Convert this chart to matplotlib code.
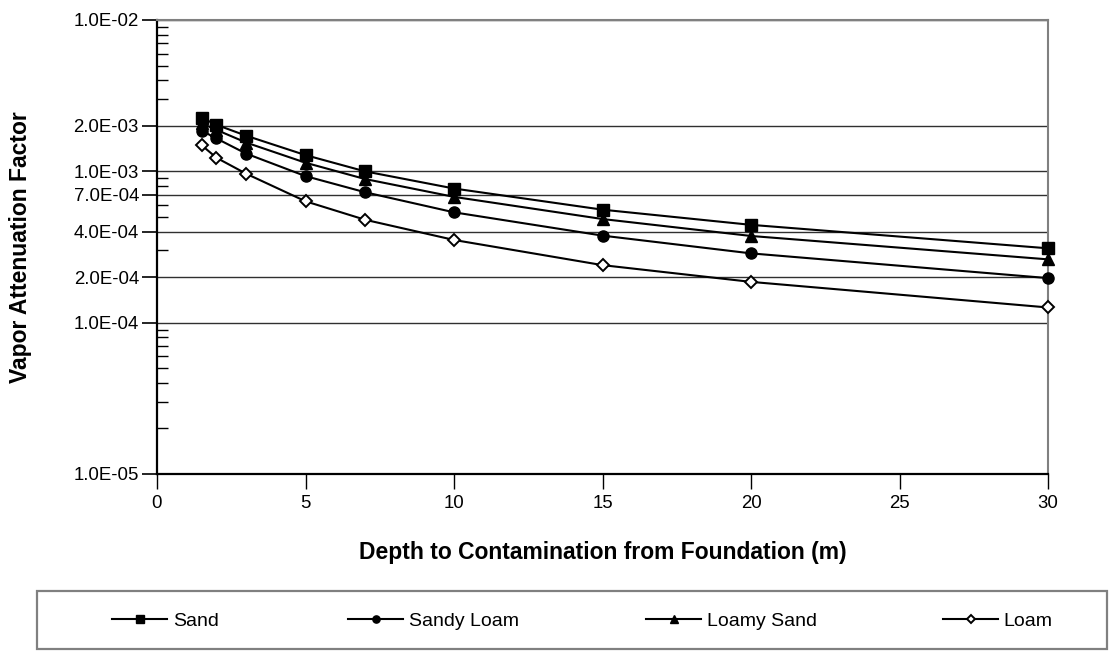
import matplotlib
matplotlib.use("Agg")
import matplotlib.pyplot as plt
from matplotlib.patches import Rectangle
from matplotlib.ticker import FixedLocator, FixedFormatter, LogLocator, NullFormatter

plt.rcParams['font.family'] = ['Liberation Sans', 'DejaVu Sans']

depth = [1.5, 2, 3, 5, 7, 10, 15, 20, 30]
sand = [2.26e-3, 2.03e-3, 1.72e-3, 1.28e-3, 1.0e-3, 7.7e-4, 5.58e-4, 4.43e-4, 3.1e-4]
sandy_loam = [1.86e-3, 1.65e-3, 1.31e-3, 9.3e-4, 7.28e-4, 5.36e-4, 3.76e-4, 2.87e-4, 1.97e-4]
loamy_sand = [2.08e-3, 1.88e-3, 1.55e-3, 1.14e-3, 8.9e-4, 6.78e-4, 4.84e-4, 3.74e-4, 2.62e-4]
loam = [1.49e-3, 1.23e-3, 9.65e-4, 6.34e-4, 4.79e-4, 3.52e-4, 2.40e-4, 1.86e-4, 1.26e-4]

y_ticks = [1e-5, 1e-4, 2e-4, 4e-4, 7e-4, 1e-3, 2e-3, 1e-2]
y_tick_labels = ["1.0E-05", "1.0E-04", "2.0E-04", "4.0E-04", "7.0E-04", "1.0E-03", "2.0E-03", "1.0E-02"]
x_ticks = [0, 5, 10, 15, 20, 25, 30]

W, H = 1110, 666
fig = plt.figure(figsize=(W / 100, H / 100), dpi=100)
L, R, T, B = 157, 1048, 20, 474
ax = fig.add_axes([L / W, 1 - B / H, (R - L) / W, (B - T) / H])

ax.set_yscale('log')
ax.set_xlim(0, 30)
ax.set_ylim(1e-5, 1e-2)

series = [
    ("Sand", sand, dict(marker='s', ms=8, mfc='black', mec='black')),
    ("Sandy Loam", sandy_loam, dict(marker='o', ms=8, mfc='black', mec='black')),
    ("Loamy Sand", loamy_sand, dict(marker='^', ms=8.5, mfc='black', mec='black')),
    ("Loam", loam, dict(marker='D', ms=6.5, mfc='white', mec='black', mew=1.4)),
]
handles = []
for name, vals, st in series:
    h, = ax.plot(depth, vals, color='black', lw=1.5, label=name, zorder=3, clip_on=False, **st)
    handles.append(h)

ax.yaxis.set_major_locator(FixedLocator(y_ticks))
ax.yaxis.set_major_formatter(FixedFormatter(y_tick_labels))
ax.yaxis.set_minor_locator(LogLocator(base=10, subs=range(2, 10), numticks=20))
ax.yaxis.set_minor_formatter(NullFormatter())
ax.set_xticks(x_ticks)

ax.tick_params(axis='y', which='major', direction='out', length=11, width=1.2, pad=2, labelsize=13.4)
ax.tick_params(axis='y', which='minor', direction='in', length=8, width=1.0)
ax.tick_params(axis='x', which='major', direction='out', length=11, width=1.0, pad=4, labelsize=13.4)
ax.tick_params(axis='x', which='minor', bottom=False)

ax.grid(True, axis='y', which='major', color='#303030', lw=1.0)
ax.set_axisbelow(True)

for s in ['left', 'bottom']:
    ax.spines[s].set_color('black')
    ax.spines[s].set_linewidth(1.6)
for s in ['right', 'top']:
    ax.spines[s].set_color('#808080')
    ax.spines[s].set_linewidth(1.5)

fig.text(21 / W, 1 - (T + B) / 2 / H, "Vapor Attenuation Factor", rotation=90,
         ha='center', va='center', fontsize=16.5, fontweight='bold')
fig.text((L + R) / 2 / W, 1 - 553 / H, "Depth to Contamination from Foundation (m)",
         ha='center', va='center', fontsize=16.5, fontweight='bold')

# legend frame
lx0, lx1, ly0, ly1 = 37, 1107, 591, 649
fig.patches.append(Rectangle((lx0 / W, 1 - ly1 / H), (lx1 - lx0) / W, (ly1 - ly0) / H,
                             transform=fig.transFigure, facecolor='none',
                             edgecolor='#808080', lw=1.6))
entry_x = [112, 348, 646, 943]
for h, ex in zip(handles, entry_x):
    fig.legend(handles=[h], loc='center left',
               bbox_to_anchor=(ex / W, 1 - 621 / H),
               bbox_transform=fig.transFigure, frameon=False, fontsize=14,
               borderpad=0, borderaxespad=0, handlelength=2.85, handletextpad=0.28,
               markerscale=0.65, numpoints=1)

fig.savefig("out.png", dpi=100)
